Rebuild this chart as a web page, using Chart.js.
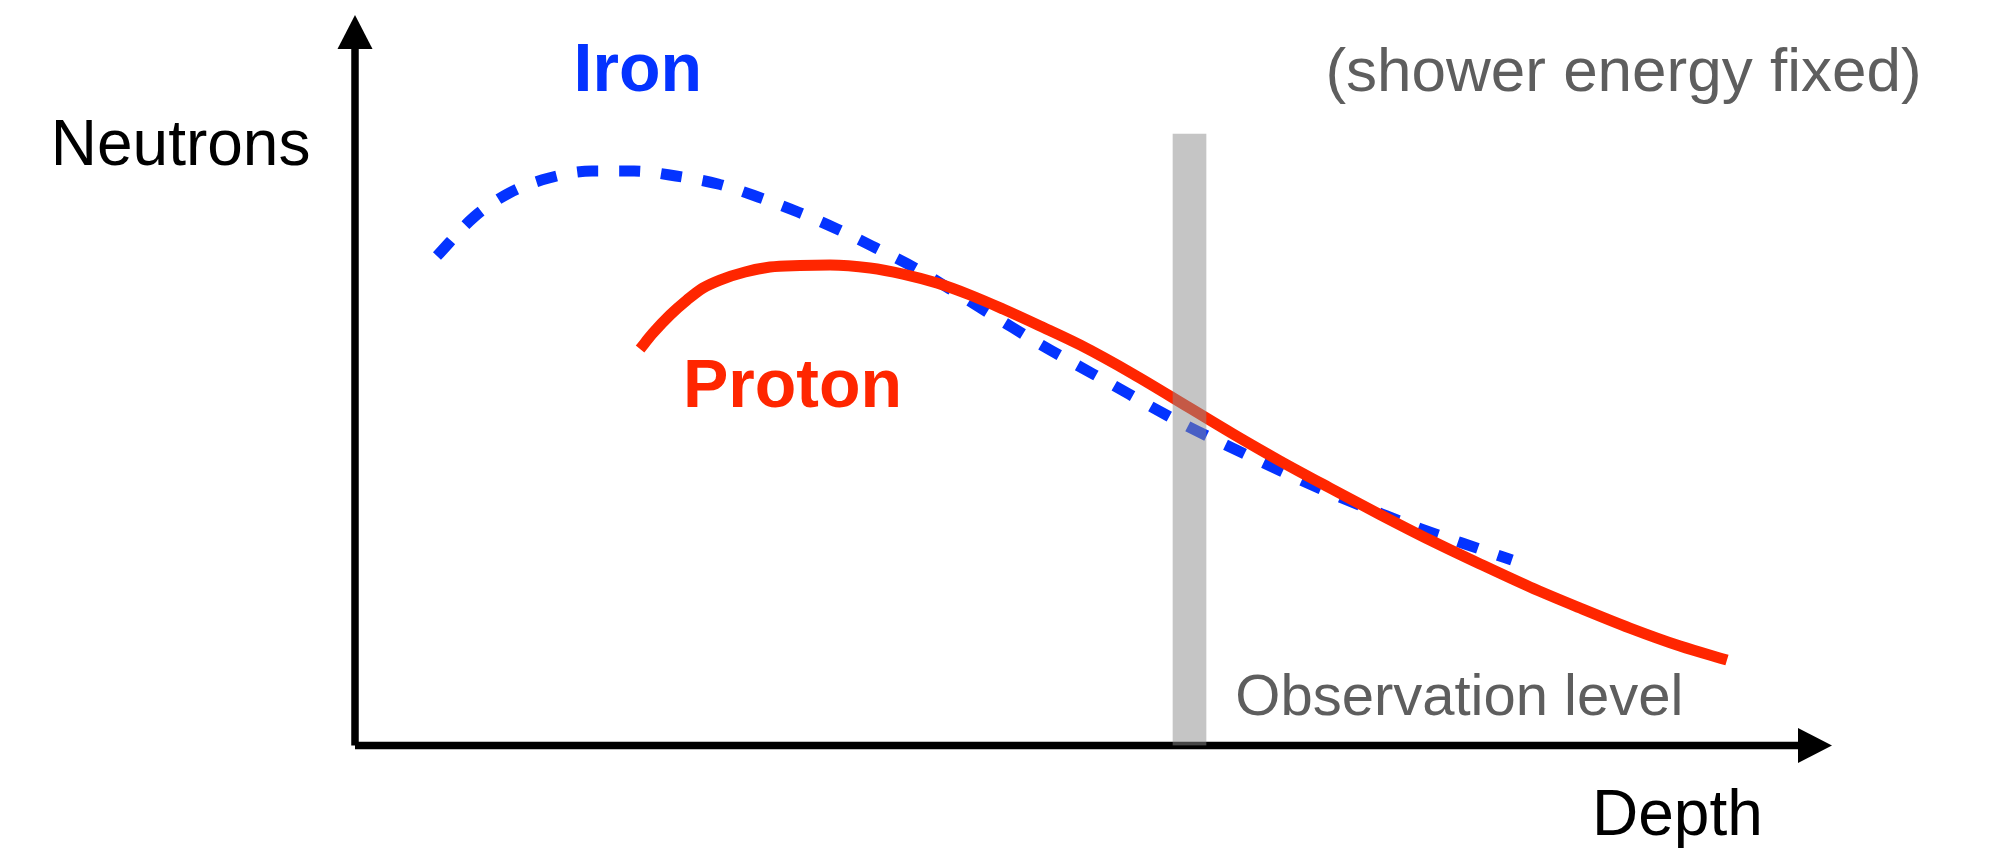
<!DOCTYPE html>
<html>
<head>
<meta charset="utf-8">
<title>Neutrons vs depth</title>
<script src="https://cdn.jsdelivr.net/npm/chart.js@4.4.1/dist/chart.umd.min.js"></script>
<style>
  html, body { margin: 0; padding: 0; background: #fff; }
  canvas { display: block; }
</style>
</head>
<body>
<canvas id="stage" width="1992" height="848"></canvas>
<script>
// depth / neutron number, arbitrary units (0-100 on both axes)
const ironDepth = [5.55, 8.06, 10.43, 13.13, 16.05, 18.89, 21.73, 24.58, 27.29, 29.99, 32.63, 35.27, 37.91, 40.28, 44.01, 46.24, 48.75, 51.32, 53.83, 56.33, 58.97, 61.54, 64.18, 66.82, 69.53, 72.17, 74.95, 78.33];
const ironNeutrons = [67.0, 72.35, 75.63, 77.69, 78.64, 78.64, 77.96, 76.86, 75.09, 73.03, 70.71, 68.1, 65.37, 62.49, 57.84, 55.1, 52.23, 49.35, 46.47, 43.74, 41.14, 38.67, 36.21, 33.88, 31.69, 29.64, 27.72, 25.39];

const protonDepth = [19.3, 20.18, 21.33, 22.48, 23.56, 24.71, 26.41, 28.1, 30.13, 32.16, 34.87, 37.1, 39.4, 41.64, 43.87, 46.38, 49.09, 52.67, 56.47, 59.45, 62.63, 66.01, 69.4, 72.78, 76.17, 79.55, 82.94, 86.32, 89.71, 92.89];
const protonNeutrons = [54.28, 56.47, 58.93, 60.99, 62.63, 63.72, 64.82, 65.5, 65.71, 65.78, 65.37, 64.54, 63.31, 61.67, 59.75, 57.43, 54.83, 50.86, 46.26, 42.64, 38.95, 35.25, 31.62, 28.13, 24.85, 21.7, 18.82, 16.08, 13.62, 11.7];

const observationDepth = [56.5];
const observationTop = [83.7];

// text labels, placed in data units
const labelText = ['Neutrons', 'Iron', '(shower energy fixed)', 'Proton', 'Observation level', 'Depth'];
const labelX = [-20.6, 14.8, 65.7, 22.2, 59.6, 83.75];
const labelY = [79.5, 89.6, 89.6, 46.3, 4.2, -12.25];
const labelFont = [
  '64px "Liberation Sans", Arial, sans-serif',
  'bold 68px "Liberation Sans", Arial, sans-serif',
  '62px "Liberation Sans", Arial, sans-serif',
  'bold 68px "Liberation Sans", Arial, sans-serif',
  '58px "Liberation Sans", Arial, sans-serif',
  '64px "Liberation Sans", Arial, sans-serif'
];
const labelColor = ['#000000', '#0433ff', '#5e5e5e', '#ff2600', '#5e5e5e', '#000000'];

const toPoints = (xs, ys) => xs.map((x, i) => ({ x: x, y: ys[i] }));

// axes with arrow heads
const arrowAxes = {
  id: 'arrowAxes',
  beforeDatasetsDraw(chart) {
    const ctx = chart.ctx;
    const xs = chart.scales.x, ys = chart.scales.y;
    const x0 = xs.getPixelForValue(0), y0 = ys.getPixelForValue(0);
    const xEnd = xs.getPixelForValue(xs.max), yEnd = ys.getPixelForValue(ys.max);
    const head = 34, half = 17.5;
    ctx.save();
    ctx.strokeStyle = '#000';
    ctx.fillStyle = '#000';
    ctx.lineWidth = 7.5;
    ctx.lineCap = 'butt';
    ctx.beginPath();
    ctx.moveTo(x0, y0);
    ctx.lineTo(x0, yEnd + head);
    ctx.moveTo(x0, y0);
    ctx.lineTo(xEnd - head, y0);
    ctx.stroke();
    ctx.beginPath();
    ctx.moveTo(x0, yEnd);
    ctx.lineTo(x0 - half, yEnd + head);
    ctx.lineTo(x0 + half, yEnd + head);
    ctx.closePath();
    ctx.fill();
    ctx.beginPath();
    ctx.moveTo(xEnd, y0);
    ctx.lineTo(xEnd - head, y0 - half);
    ctx.lineTo(xEnd - head, y0 + half);
    ctx.closePath();
    ctx.fill();
    ctx.restore();
  }
};

const textLabels = {
  id: 'textLabels',
  afterDatasetsDraw(chart) {
    const ctx = chart.ctx;
    const xs = chart.scales.x, ys = chart.scales.y;
    ctx.save();
    ctx.textAlign = 'left';
    ctx.textBaseline = 'alphabetic';
    labelText.forEach((t, i) => {
      ctx.font = labelFont[i];
      ctx.fillStyle = labelColor[i];
      ctx.fillText(t, xs.getPixelForValue(labelX[i]), ys.getPixelForValue(labelY[i]));
    });
    ctx.restore();
  }
};

new Chart(document.getElementById('stage'), {
  data: {
    datasets: [{
      type: 'bar',
      label: 'Observation level',
      data: toPoints(observationDepth, observationTop),
      backgroundColor: 'rgba(140,140,140,0.5)',
      borderWidth: 0,
      barThickness: 33,
      order: 0
    }, {
      type: 'line',
      label: 'Iron',
      data: toPoints(ironDepth, ironNeutrons),
      borderColor: '#0433ff',
      borderWidth: 11,
      borderDash: [21, 21],
      borderCapStyle: 'butt',
      pointRadius: 0,
      cubicInterpolationMode: 'monotone',
      fill: false,
      order: 2
    }, {
      type: 'line',
      label: 'Proton',
      data: toPoints(protonDepth, protonNeutrons),
      borderColor: '#ff2600',
      borderWidth: 11,
      borderCapStyle: 'butt',
      borderJoinStyle: 'round',
      pointRadius: 0,
      cubicInterpolationMode: 'monotone',
      fill: false,
      order: 1
    }]
  },
  options: {
    responsive: false,
    animation: false,
    devicePixelRatio: 1,
    layout: { padding: { left: 355, right: 160, top: 15, bottom: 102.5 } },
    scales: {
      x: { type: 'linear', min: 0, max: 100, offset: false, display: false },
      y: { type: 'linear', min: 0, max: 100, display: false }
    },
    plugins: {
      legend: { display: false },
      tooltip: { enabled: false }
    }
  },
  plugins: [arrowAxes, textLabels]
});
</script>
</body>
</html>
